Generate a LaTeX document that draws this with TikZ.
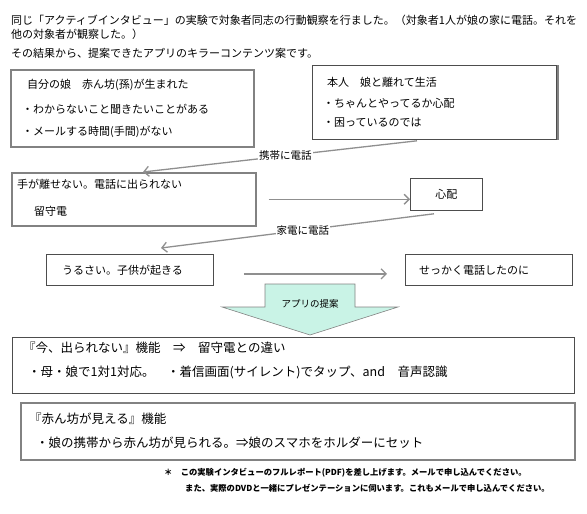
\documentclass[tikz,border=0pt]{standalone}
\usepackage{fontspec}
\newfontfamily\jpfont{Noto Sans CJK JP}
\usepackage{tikz}
\usetikzlibrary{arrows.meta,positioning,calc}
\definecolor{waku}{HTML}{4D4D4D}
\definecolor{usuwaku}{HTML}{828282}
\definecolor{yajirushi}{HTML}{8F8F8F}
\definecolor{teian}{HTML}{C9F3E6}

\begin{document}
\begin{tikzpicture}[x=1pt, y=-1pt, font=\jpfont\fontsize{11}{13}\selectfont,
    box/.style={draw=waku, line width=0.8pt, inner sep=0pt, anchor=north west},
    gbox/.style={box, draw=usuwaku, line width=1.5pt},
    txt/.style={inner sep=0pt, anchor=west},
    big/.style={txt, font=\jpfont\fontsize{12.5}{14}\selectfont},
    yaji/.style={draw=yajirushi, line width=1.3pt, -{Straight Barb[length=5pt,width=10pt]}},
    lbl/.style={fill=white, inner sep=1pt, font=\jpfont\fontsize{10.5}{12}\selectfont},
    chu/.style={txt, font=\jpfont\bfseries\fontsize{8.3}{10}\selectfont}]
  \useasboundingbox (0,0) rectangle (587,514);
  \foreach \i/\yy/\t in {1/20/同じ「アクティブインタビュー」の実験で対象者同志の行動観察を行ました。（対象者1人が娘の家に電話。それを,
                         2/34/他の対象者が観察した。）,
                         3/53/その結果から、提案できたアプリのキラーコンテンツ案です。}{
    \node[txt] (midashi\i) at (11,\yy) {\t};
  }
  % boxes
  \node[gbox, minimum width=243, minimum height=77] (musume) at (10,69) {};
  \node[box, minimum width=244, minimum height=74] (honnin) at (312,65) {};
  \draw[usuwaku, line width=1.5pt] ([xshift=1pt]honnin.north east) -- ([xshift=1pt]honnin.south east);
  \node[gbox, minimum width=244, minimum height=53] (hanasenai) at (11,172) {};
  \node[box, minimum width=72, minimum height=32] (shinpai) at (410,178) {};
  \node[box, minimum width=167, minimum height=31] (urusai) at (46,254) {};
  \node[box, minimum width=167, minimum height=31] (sekkaku) at (405,254) {};
  \node[box, minimum width=562, minimum height=56] (imadenai) at (12,337) {};
  \node[gbox, minimum width=554, minimum height=57] (akanbou) at (20,402) {};
  % texts
  \node[txt] (musume1) at (27,85) {自分の娘　赤ん坊(孫)が生まれた};
  \node[txt] (musume2) at (22,109) {・わからないこと聞きたいことがある};
  \node[txt] (musume3) at (22,132) {・メールする時間(手間)がない};
  \node[txt] (honnin1) at (327,82) {本人　娘と離れて生活};
  \node[txt] (honnin2) at (323,103) {・ちゃんとやってるか心配};
  \node[txt] (honnin3) at (323,123) {・困っているのでは};
  \node[txt] (hanasenai1) at (17,184) {手が離せない。電話に出られない};
  \node[txt] (hanasenai2) at (34,211) {留守電};
  \node[inner sep=0pt] (shinpai1) at (shinpai.center) {心配};
  \node[txt] (urusai1) at (62,270) {うるさい。子供が起きる};
  \node[txt] (sekkaku1) at (419,270) {せっかく電話したのに};
  \node[big] (imadenai1) at (23,348) {『今、出られない』機能　⇒　留守電との違い};
  \node[big] (imadenai2) at (28,372) {・母・娘で1対1対応。　・着信画面(サイレント)でタップ、and　音声認識};
  \node[big] (akanbou1) at (29,419) {『赤ん坊が見える』機能};
  \node[big] (akanbou2) at (36,443) {・娘の携帯から赤ん坊が見られる。⇒娘のスマホをホルダーにセット};
  % connectors
  \draw[yaji] ([xshift=105pt,yshift=-1pt]honnin.south west) -- node[lbl, pos=0.48] (keitai) {携帯に電話} ([xshift=132pt]hanasenai.north west);
  \draw[yaji] ([xshift=12pt]hanasenai.east) -- (hanasenai.east -| shinpai.west);
  \draw[yaji] ([xshift=24pt,yshift=-3pt]shinpai.south west) -- node[lbl, pos=0.48] (kaden) {家電に電話} ([xshift=115pt,yshift=6pt]urusai.north west);
  \draw[yaji] ([xshift=30pt,yshift=-4pt]urusai.east) -- ([xshift=-18pt,yshift=-4pt]sekkaku.west);
  % teian arrow
  \draw[draw=usuwaku, fill=teian, line width=0.6pt] (265,284) -- (355,284) -- (355,307) -- (398,307)
    -- (310,335) -- (222,307) -- (265,307) -- cycle;
  \node[font=\jpfont\fontsize{9.5}{11}\selectfont] (teian1) at (310,304) {アプリの提案};
  % chuui
  \node[chu] (chu1) at (164,473) {＊\quad この実験インタビューのフルレポート(PDF)を差し上げます。メールで申し込んでください。};
  \node[chu] (chu2) at (185,488) {また、実際のDVDと一緒にプレゼンテーションに伺います。これもメールで申し込んでください。};
\end{tikzpicture}
\end{document}
